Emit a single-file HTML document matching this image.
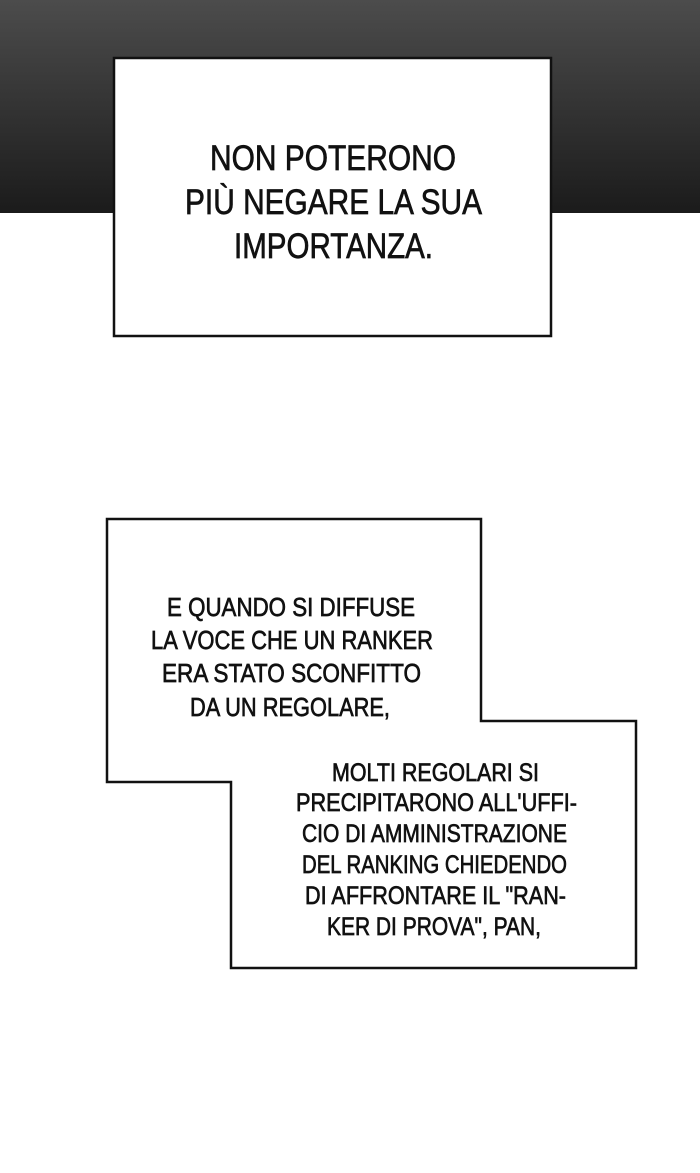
<!DOCTYPE html>
<html><head><meta charset="utf-8"><style>
html,body{margin:0;padding:0;background:#fff;}
svg{display:block}
text{font-family:"Liberation Sans",sans-serif;fill:#111;stroke:#111;stroke-width:0.7;}
</style></head><body>
<svg width="700" height="1173" viewBox="0 0 700 1173" xmlns="http://www.w3.org/2000/svg">
<defs><linearGradient id="g" x1="0" y1="0" x2="0" y2="1">
<stop offset="0" stop-color="#4c4c4c"/><stop offset="1" stop-color="#1b1b1b"/></linearGradient></defs>
<rect x="0" y="0" width="700" height="1173" fill="#fff"/>
<rect x="0" y="0" width="700" height="213" fill="url(#g)"/>
<rect x="114" y="58" width="437" height="278" fill="#fff" stroke="#111" stroke-width="2.5"/>
<g font-size="35" text-anchor="start">
<text x="210" y="170" textLength="246" lengthAdjust="spacingAndGlyphs">NON POTERONO</text>
<text x="185" y="214" textLength="297" lengthAdjust="spacingAndGlyphs">PIÙ NEGARE LA SUA</text>
<text x="234" y="258" textLength="199" lengthAdjust="spacingAndGlyphs">IMPORTANZA.</text>
</g>
<polygon points="107,519 481,519 481,721 636,721 636,968 231,968 231,782 107,782" fill="#fff" stroke="#111" stroke-width="2.5"/>
<g font-size="26">
<text x="167" y="616" textLength="248" lengthAdjust="spacingAndGlyphs">E QUANDO SI DIFFUSE</text>
<text x="151" y="649" textLength="282" lengthAdjust="spacingAndGlyphs">LA VOCE CHE UN RANKER</text>
<text x="162" y="682" textLength="259" lengthAdjust="spacingAndGlyphs">ERA STATO SCONFITTO</text>
<text x="190" y="716" textLength="200" lengthAdjust="spacingAndGlyphs">DA UN REGOLARE,</text>
</g>
<g font-size="25">
<text x="332" y="781" textLength="207" lengthAdjust="spacingAndGlyphs">MOLTI REGOLARI SI</text>
<text x="296" y="811" textLength="281" lengthAdjust="spacingAndGlyphs">PRECIPITARONO ALL'UFFI-</text>
<text x="302" y="842" textLength="265" lengthAdjust="spacingAndGlyphs">CIO DI AMMINISTRAZIONE</text>
<text x="302" y="873" textLength="265" lengthAdjust="spacingAndGlyphs">DEL RANKING CHIEDENDO</text>
<text x="305" y="904" textLength="261" lengthAdjust="spacingAndGlyphs">DI AFFRONTARE IL "RAN-</text>
<text x="327" y="935" textLength="214" lengthAdjust="spacingAndGlyphs">KER DI PROVA", PAN,</text>
</g>
</svg>
</body></html>
